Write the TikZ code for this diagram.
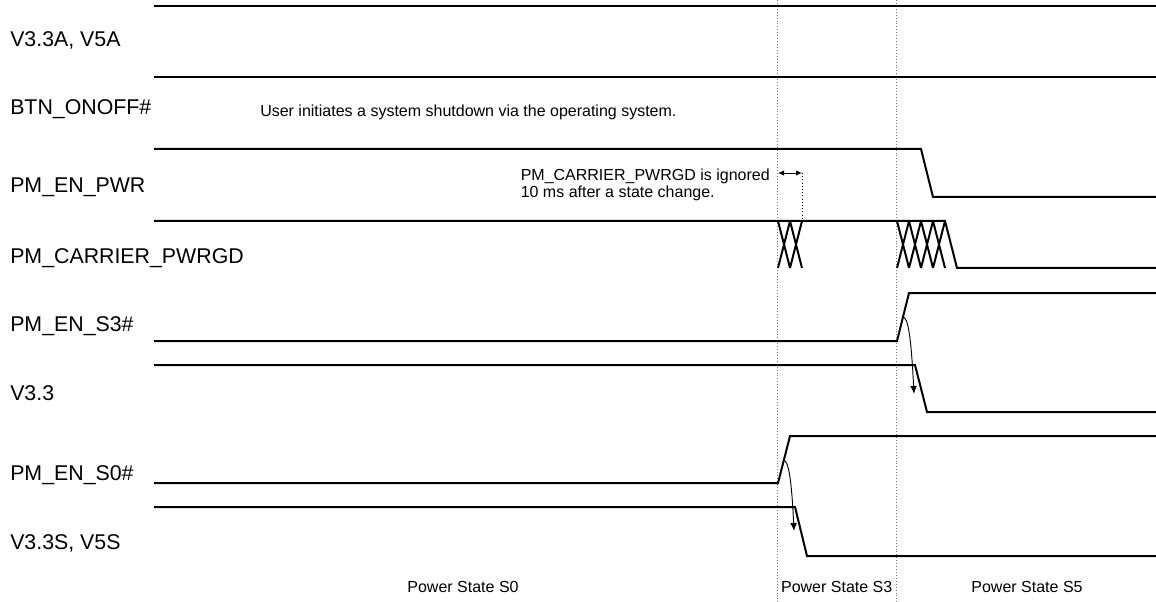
\documentclass[tikz,border=0pt]{standalone}
\usepackage{fontspec}
\setmainfont{Liberation Sans}
\usetikzlibrary{arrows.meta}
\begin{document}
\begin{tikzpicture}[x=0.75pt,y=-0.75pt,
  sig/.style={line width=1.5pt, line join=miter},
  lbl/.style={anchor=base west, inner sep=0pt, font=\fontsize{16}{19}\selectfont},
  note/.style={anchor=base west, inner sep=0pt, font=\fontsize{12}{14}\selectfont},
  statelbl/.style={anchor=base, inner sep=0pt, font=\fontsize{12}{14}\selectfont},
  guide/.style={black!55, line width=0.6pt, dash pattern=on 0.6pt off 1.6pt},
  markguide/.style={black, line width=0.7pt, dash pattern=on 0.8pt off 1.6pt},
  cause/.style={line width=0.7pt, -{Latex[length=6pt,width=5pt]}},
  span/.style={line width=0.7pt, {Latex[length=4.5pt,width=4pt]}-{Latex[length=4.5pt,width=4pt]}},
]
\useasboundingbox (0,0) rectangle (1156,602);

% signal labels
\node[lbl] (lA)  at (10,47)  {V3.3A, V5A};
\node[lbl] (lB)  at (10,115) {BTN\_ONOFF\#};
\node[lbl] (lP)  at (10,193) {PM\_EN\_PWR};
\node[lbl] (lC)  at (10,264) {PM\_CARRIER\_PWRGD};
\node[lbl] (lS3) at (10,331) {PM\_EN\_S3\#};
\node[lbl] (lV3) at (10,400) {V3.3};
\node[lbl] (lS0) at (10,480) {PM\_EN\_S0\#};
\node[lbl] (lVS) at (10,549) {V3.3S, V5S};

% notes
\node[note] (user) at (260,117) {User initiates a system shutdown via the operating system.};
\node[note] (ign1) at (520.5,181) {PM\_CARRIER\_PWRGD is ignored};
\node[note] (ign2) at (520.5,198) {10 ms after a state change.};

% state labels
\node[statelbl] (st0) at (463,592)   {Power State S0};
\node[statelbl] (st3) at (836.7,592) {Power State S3};
\node[statelbl] (st5) at (1027,592)  {Power State S5};

% state boundaries
\draw[guide] (777.5,0) -- (777.5,602);
\draw[guide] (896.5,0) -- (896.5,602);

% V3.3A, V5A
\draw[sig] (154,6) -- (1156,6);
% BTN_ONOFF#
\draw[sig] (154,77) -- (1156,77);
% PM_EN_PWR
\draw[sig] (154,149) -- (921,149) -- (933,197) -- (1156,197);
% PM_CARRIER_PWRGD
\draw[sig] (154,221) -- (945,221) -- (957,268) -- (1156,268);
\foreach \a in {778,790}
  \draw[sig] (\a,221) -- (\a+12,268) (\a,268) -- (\a+12,221);
\foreach \a in {897,909,921,933}
  \draw[sig] (\a,221) -- (\a+12,268) (\a,268) -- (\a+12,221);
% PM_EN_S3#
\draw[sig] (154,341) -- (897,341) -- (909,293) -- (1156,293);
% V3.3
\draw[sig] (154,365) -- (915,365) -- (927,412) -- (1156,412);
% PM_EN_S0#
\draw[sig] (154,483) -- (778,483) -- (790,436) -- (1156,436);
% V3.3S, V5S
\draw[sig] (154,507) -- (795,507) -- (807,556) -- (1156,556);

% ignore window annotation
\coordinate (ignA) at (778,173);
\coordinate (ignB) at (802,173);
\coordinate (ignC) at (802,221);
\draw[span] (ignA) -- (ignB);
\draw[markguide] (ignB) -- (ignC);

% cause arrows
\coordinate (s3edge) at (903,317);
\coordinate (v33edge) at (914,394);
\draw[cause] (s3edge) .. controls (908,318) and (911,335) .. (v33edge);
\coordinate (s0edge) at (783.5,460);
\coordinate (v33sedge) at (794,531);
\draw[cause] (s0edge) .. controls (788.5,461) and (791.5,478) .. (v33sedge);
\end{tikzpicture}
\end{document}
